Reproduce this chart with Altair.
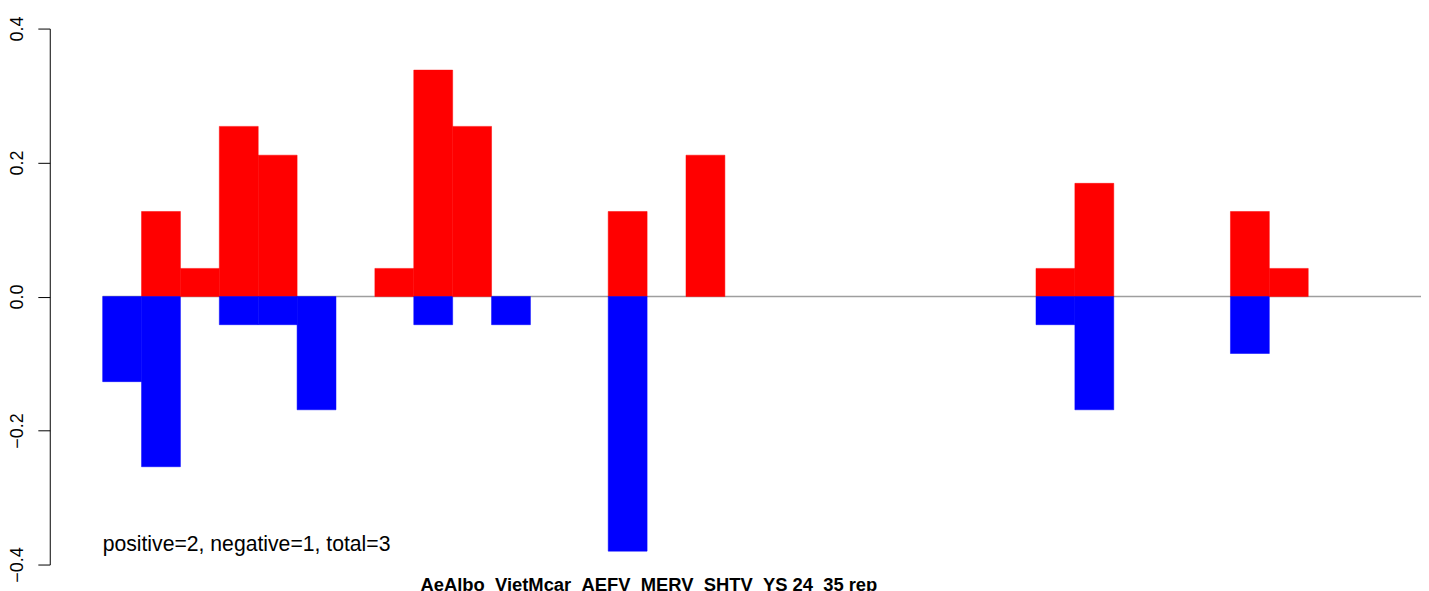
import altair as alt
import pandas as pd

# ---- data ----
bar_index = list(range(34))
pos_vals = [0.0, 0.127, 0.042, 0.254, 0.211, 0.0, 0.0, 0.042, 0.338, 0.254,
            0.0, 0.0, 0.0, 0.127, 0.0, 0.211, 0.0, 0.0, 0.0, 0.0,
            0.0, 0.0, 0.0, 0.0, 0.042, 0.169, 0.0, 0.0, 0.0, 0.127,
            0.042, 0.0, 0.0, 0.0]
neg_vals = [-0.127, -0.254, 0.0, -0.042, -0.042, -0.169, 0.0, 0.0, -0.042, 0.0,
            -0.042, 0.0, 0.0, -0.380, 0.0, 0.0, 0.0, 0.0, 0.0, 0.0,
            0.0, 0.0, 0.0, 0.0, -0.042, -0.169, 0.0, 0.0, 0.0, -0.085,
            0.0, 0.0, 0.0, 0.0]
y_ticks = [-0.4, -0.2, 0.0, 0.2, 0.4]
title_text = "AeAlbo_VietMcar_AEFV_MERV_SHTV_YS 24_35 rep"
note_text = "positive=2, negative=1, total=3"

FONT = "Liberation Sans"
n = len(bar_index)

rows = []
for i, p, q in zip(bar_index, pos_vals, neg_vals):
    if p != 0:
        rows.append({"idx": i, "end": i + 1, "value": p, "base": 0.0, "sign": "pos"})
    if q != 0:
        rows.append({"idx": i, "end": i + 1, "value": q, "base": 0.0, "sign": "neg"})
bars_df = pd.DataFrame(rows)

line_df = pd.DataFrame({"idx": [bar_index[0]], "end": [bar_index[-1] + 1], "value": [0.0]})
note_df = pd.DataFrame({"idx": [bar_index[0]], "value": [min(neg_vals)], "label": [note_text]})

xscale = alt.Scale(domain=[-0.04 * n, 33.9], nice=False, zero=False)
yscale = alt.Scale(domain=[-0.4, 0.4], nice=False, zero=False)

yaxis = alt.Axis(values=y_ticks, format=".1f", labelAngle=270, labelAlign="center",
                 labelBaseline="alphabetic", labelPadding=15, tickSize=12,
                 tickColor="black", domainColor="black", tickWidth=1, domainWidth=1,
                 labelFontSize=18, labelFont=FONT, labelColor="black", grid=False,
                 title=None, labelFlush=False, labelOverlap=False, labelBound=False)

color_scale = alt.Scale(domain=["pos", "neg"], range=["#ff0000", "#0000ff"])

rule = alt.Chart(line_df).mark_rule(color="#9e9e9e", strokeWidth=1.5, clip=True).encode(
    x=alt.X("idx:Q", scale=xscale, axis=None),
    x2="end:Q",
    y=alt.Y("value:Q", scale=yscale, axis=yaxis),
)

bars = alt.Chart(bars_df).mark_rect(clip=True, strokeWidth=0.5).encode(
    x=alt.X("idx:Q", scale=xscale, axis=None),
    x2="end:Q",
    y=alt.Y("value:Q", scale=yscale, axis=yaxis),
    y2="base:Q",
    color=alt.Color("sign:N", scale=color_scale, legend=None),
    stroke=alt.Stroke("sign:N", scale=color_scale, legend=None),
)

note = alt.Chart(note_df).mark_text(align="left", baseline="alphabetic", fontSize=21.3,
                                    font=FONT, color="black").encode(
    x=alt.X("idx:Q", scale=xscale, axis=None),
    y=alt.Y("value:Q", scale=yscale, axis=yaxis),
    text="label:N",
)

chart = alt.layer(rule, bars, note).properties(
    width=1379,
    height=539,
    autosize=alt.AutoSizeParams(type="none"),
    padding={"left": 42, "top": 19, "right": 0, "bottom": 40},
    title=alt.TitleParams(text=title_text, orient="bottom", anchor="middle", frame="group",
                          dx=-87, dy=9, offset=0, baseline="alphabetic",
                          fontSize=18.5, fontWeight="bold", font=FONT, color="black"),
).configure(background="white").configure_view(strokeWidth=0, stroke="transparent")

chart.save("out.html", embed_options={"renderer": "svg", "actions": False})
